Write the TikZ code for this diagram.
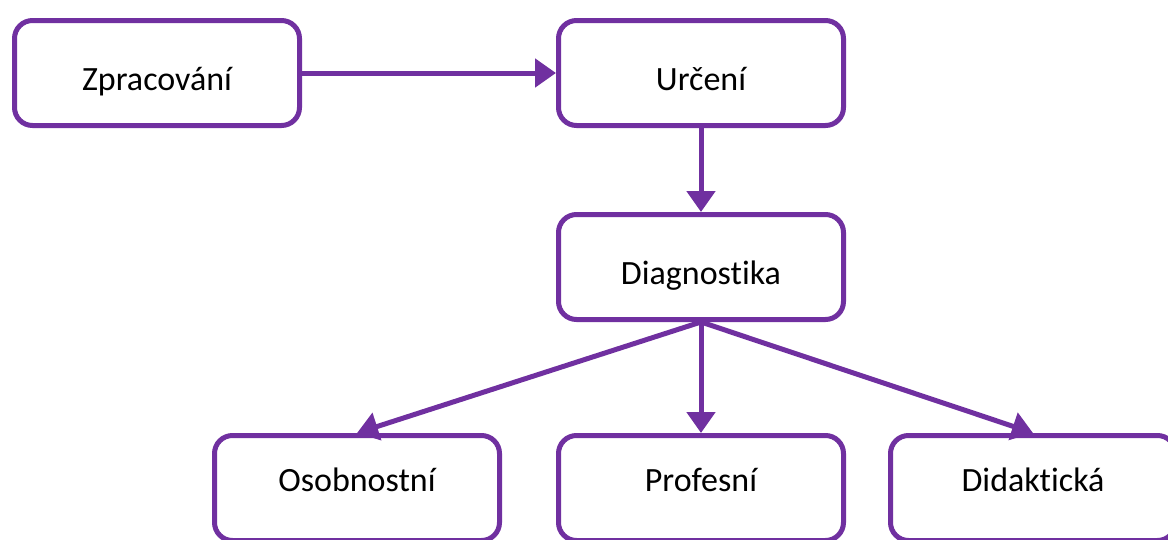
\documentclass[tikz,border=0pt]{standalone}
\usepackage{fontspec}
\setmainfont{Carlito}[Ligatures=NoCommon]
\usepackage{xcolor}
\usetikzlibrary{arrows.meta}
\definecolor{lila}{HTML}{7030A0}

\begin{document}
\begin{tikzpicture}[x=1pt,y=-1pt,>={Triangle[length=21pt,width=28pt]},
 box/.style={draw=lila,line width=5pt,rounded corners=18pt,fill=white,
   minimum width=285pt,minimum height=105pt,text height=34pt,text depth=0pt,
   font=\fontsize{34}{40}\selectfont},
 leaf/.style={box,text height=6pt},
 link/.style={->,draw=lila,line width=5pt}]
 \useasboundingbox (0,0) rectangle (1168,539);
 \clip (0,0) rectangle (1168,539);

 \node[box] (zprac) at (157,73) {Zpracování};
 \node[box] (urceni) at (701,73) {Určení};
 \node[box] (diag) at (701,267) {Diagnostika};
 \node[leaf] (osob) at (357,488) {Osobnostní};
 \node[leaf] (prof) at (701,488) {Profesní};
 \node[leaf] (didak) at (1033,488) {Didaktická};

 \draw[link] (zprac) -- (urceni);
 \draw[link] (urceni) -- (diag);
 \draw[link] (diag.south) -- (osob.north);
 \draw[link] (diag.south) -- (prof.north);
 \draw[link] (diag.south) -- (didak.north);
\end{tikzpicture}
\end{document}
